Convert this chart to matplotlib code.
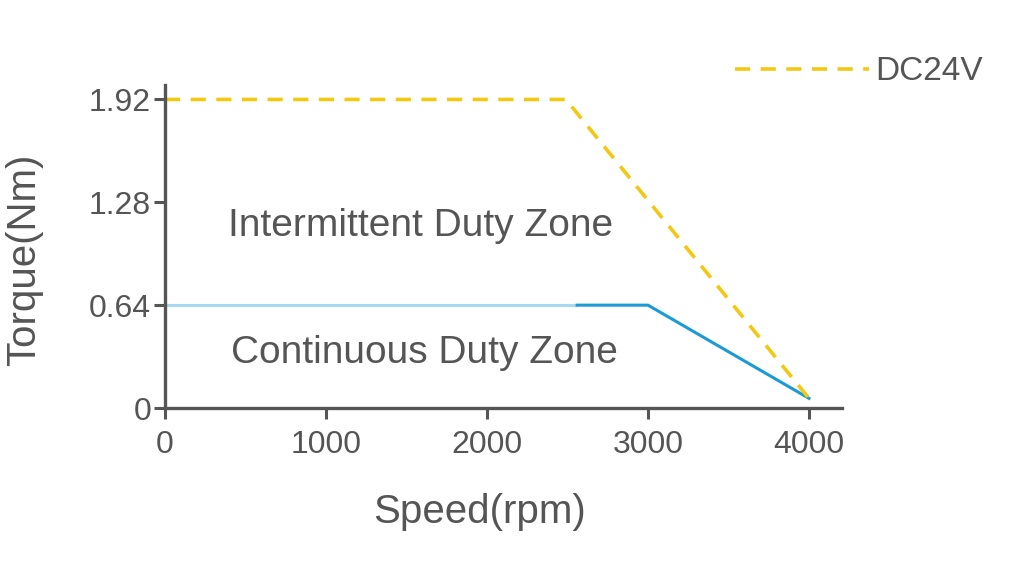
import matplotlib
matplotlib.use("Agg")
import matplotlib.pyplot as plt
from matplotlib.lines import Line2D

# Data
dc24_speed = [0, 2490, 4000]
dc24_torque = [1.92, 1.92, 0.06]
cont_light_speed = [0, 2560]
cont_light_torque = [0.64, 0.64]
cont_speed = [2560, 3000, 4000]
cont_torque = [0.64, 0.64, 0.06]
x_ticks = [0, 1000, 2000, 3000, 4000]
y_ticks = [0, 0.64, 1.28, 1.92]
y_labels = ["0", "0.64", "1.28", "1.92"]
legend_label = "DC24V"

GRAY = "#555555"
YELLOW = "#f2c811"
LIGHTBLUE = "#a9d9f0"
BLUE = "#1a9ad6"

plt.rcParams['font.family'] = ['Liberation Sans', 'DejaVu Sans']

fig = plt.figure(figsize=(10.24, 5.63), dpi=100)
ax = fig.add_axes([165/1024, 1-408/563, (842-165)/1024, (408-85)/563])
ax.set_xlim(0, 4205)
ax.set_ylim(0, 2.01)

ax.plot(cont_light_speed, cont_light_torque, color=LIGHTBLUE, lw=2.2, solid_capstyle='butt')
ax.plot(cont_speed, cont_torque, color=BLUE, lw=2.2)
ax.plot(dc24_speed, dc24_torque, color=YELLOW, lw=2.6, dashes=(4.2, 2.9))

ax.text(1590, 1.135, "Intermittent Duty Zone", fontsize=28, color=GRAY,
        ha='center', va='center')
ax.text(1610, 0.34, "Continuous Duty Zone", fontsize=28, color=GRAY,
        ha='center', va='center')

for s in ['top', 'right']:
    ax.spines[s].set_visible(False)
for s in ['left', 'bottom']:
    ax.spines[s].set_color(GRAY)
    ax.spines[s].set_linewidth(2.4)

ax.set_xticks(x_ticks)
ax.set_xticklabels([str(v) for v in x_ticks])
ax.set_yticks(y_ticks)
ax.set_yticklabels(y_labels)
ax.tick_params(axis='both', colors=GRAY, labelcolor=GRAY,
               width=2.2, length=8, direction='out')
ax.tick_params(axis='x', pad=8, labelsize=23)
ax.tick_params(axis='y', pad=2, labelsize=23)

fig.text(480/1024, 1-512/563, "Speed(rpm)", fontsize=29, color=GRAY,
         ha='center', va='center')
fig.text(24/1024, 1-260/563, "Torque(Nm)", fontsize=29, color=GRAY,
         ha='center', va='center', rotation=90)

handle = Line2D([], [], color=YELLOW, lw=2.6, dashes=(4.2, 2.9))
fig.legend([handle], [legend_label], loc='center left',
           bbox_to_anchor=(722/1024, 1-72/563), frameon=False,
           fontsize=24, handlelength=4.0, handletextpad=0.2,
           labelcolor=GRAY, borderaxespad=0)

fig.savefig("out.png", dpi=100)
